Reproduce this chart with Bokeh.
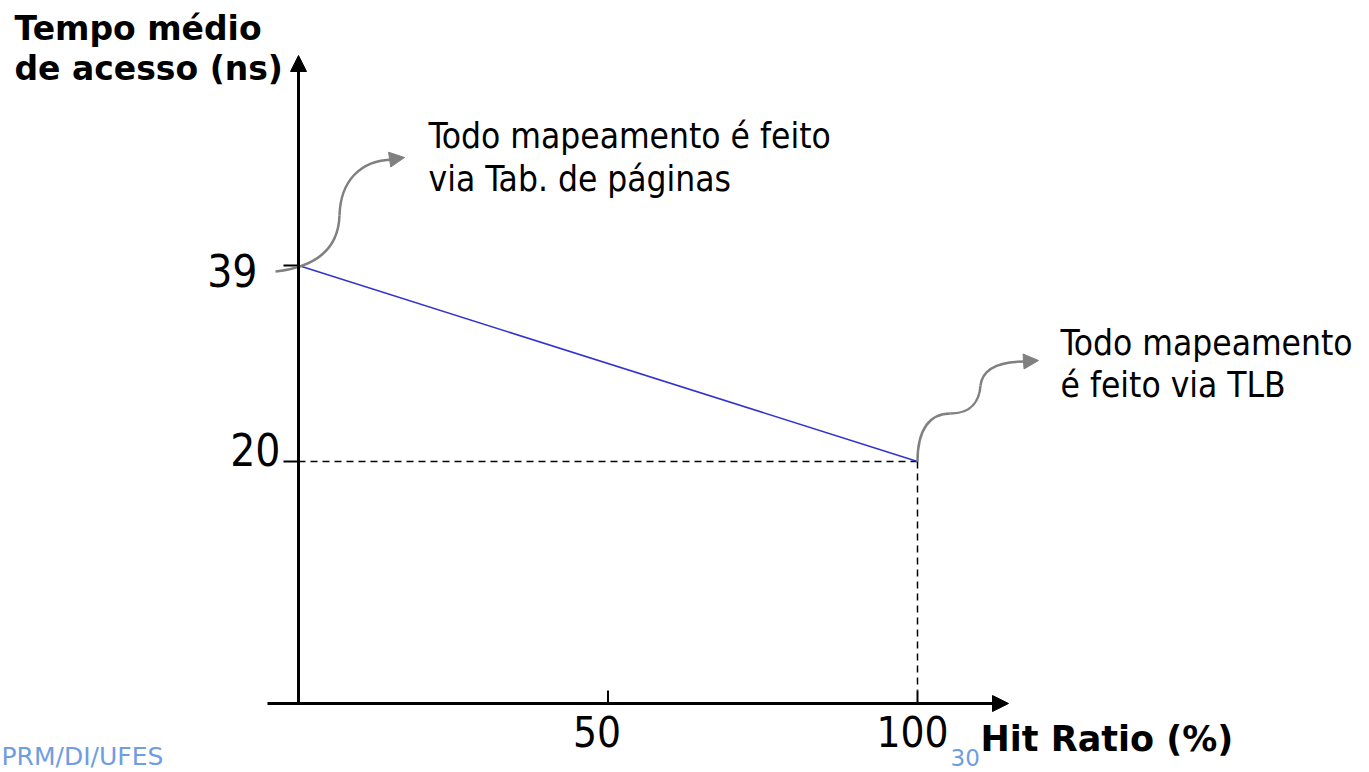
from bokeh.plotting import figure
from bokeh.models import Range1d, Arrow, NormalHead
from bokeh.core.properties import value
from bokeh.embed import file_html
from bokeh.resources import INLINE

# ---------------- data ----------------
hit_ratio = [0, 100]          # %
tempo_ns = [39, 20]           # ns
y_ticks = [39, 20]
y_tick_labels = ["39", "20"]
x_ticks = [50, 100]
x_tick_labels = ["50", "100"]
title_lines = ["Tempo médio", "de acesso (ns)"]
x_title = "Hit Ratio (%)"
note_table = ["Todo mapeamento é feito", "via Tab. de páginas"]
note_tlb = ["Todo mapeamento", "é feito via TLB"]
footer = "PRM/DI/UFES"
page_no = "30"

# ---------------- layout (pixel scale of the slide) ----------------
W, H = 1369, 772
MARGIN = 0
X0_PX, X1_PX = 298, 917      # page px of hit 0 and 100
Y0_PX, Y1_PX = 265, 461      # page px of 39 ns and 20 ns
SX = (X1_PX - X0_PX) / (hit_ratio[1] - hit_ratio[0])
SY = (Y1_PX - Y0_PX) / (tempo_ns[0] - tempo_ns[1])
BL = 0.35                    # baseline correction (fraction of font size)


def X(px):
    return hit_ratio[0] + (px - X0_PX) / SX


def Y(py):
    return tempo_ns[0] - (py - Y0_PX) / SY


def dx(px):
    return px / SX


def dy(py):
    return py / SY


def base(yval, fs):
    # y position so that the drawn baseline lands on yval
    return yval + dy(BL * fs)


p = figure(width=W, height=H,
           x_range=Range1d(X(MARGIN), X(MARGIN + W)),
           y_range=Range1d(Y(MARGIN + H), Y(MARGIN)),
           output_backend="svg", toolbar_location=None,
           x_axis_location=None, y_axis_location=None, min_border=0)
p.grid.visible = False
p.outline_line_color = None
p.background_fill_color = "white"
p.border_fill_color = "white"

REG = value("DejaVu Sans Condensed")
BOLD = value("DejaVu Sans")

y_base = Y(703)          # level of the horizontal axis
x_left = X(267)
x_tip = X(1008)
y_tip = Y(55)

# ---------------- axes with arrows ----------------
p.add_layout(Arrow(end=NormalHead(size=16, fill_color="black", line_color="black", line_width=1),
                   x_start=hit_ratio[0], y_start=y_base, x_end=hit_ratio[0], y_end=y_tip,
                   line_color="black", line_width=3))
p.add_layout(Arrow(end=NormalHead(size=16, fill_color="black", line_color="black", line_width=1),
                   x_start=x_left, y_start=y_base, x_end=x_tip, y_end=y_base,
                   line_color="black", line_width=3))

# y ticks
p.segment(x0=[hit_ratio[0] - dx(15)] * len(y_ticks), y0=y_ticks,
          x1=[hit_ratio[0]] * len(y_ticks), y1=y_ticks,
          line_color="black", line_width=2)
# x ticks
p.segment(x0=x_ticks, y0=[y_base] * len(x_ticks), x1=x_ticks,
          y1=[y_base + dy(13)] * len(x_ticks), line_color="black", line_width=2)

# dashed guides at the TLB end point
p.segment(x0=[hit_ratio[0]], y0=[tempo_ns[1]], x1=[hit_ratio[1]], y1=[tempo_ns[1]],
          line_color="black", line_width=1.5, line_dash="7 5")
p.segment(x0=[hit_ratio[1]], y0=[tempo_ns[1]], x1=[hit_ratio[1]], y1=[y_base + dy(13)],
          line_color="black", line_width=1.5, line_dash="7 5")

# main line
p.line(hit_ratio, tempo_ns, line_color="#3232cc", line_width=1.6)

# tick labels
p.text(x=[hit_ratio[0] - dx(41), hit_ratio[0] - dx(18)],
       y=[base(y_ticks[0] - dy(20), 44), base(y_ticks[1] - dy(3), 44)],
       text=y_tick_labels, text_font=REG, text_font_size=value("44px"),
       text_align="right", text_baseline="alphabetic", text_color="black")
p.text(x=[x_ticks[0] - dx(11), x_ticks[1] - dx(5)],
       y=[base(y_base - dy(43), 42)] * 2,
       text=x_tick_labels, text_font=REG, text_font_size=value("42px"),
       text_align="center", text_baseline="alphabetic", text_color="black")

# axis titles
p.text(x=[X(14), X(14)], y=[base(Y(40), 33), base(Y(80), 33)], text=title_lines,
       text_font=BOLD, text_font_style="bold", text_font_size=value("33px"),
       text_align="left", text_baseline="alphabetic", text_color="black")
p.text(x=[X(980)], y=[base(Y(751), 35)], text=[x_title],
       text_font=BOLD, text_font_style="bold", text_font_size=value("35px"),
       text_align="left", text_baseline="alphabetic", text_color="black")

# notes
p.text(x=[X(428)] * 2, y=[base(Y(148), 35), base(Y(191), 35)], text=note_table,
       text_font=REG, text_font_size=value("35px"),
       text_align="left", text_baseline="alphabetic", text_color="black")
p.text(x=[X(1060)] * 2, y=[base(Y(355), 35), base(Y(397), 35)], text=note_tlb,
       text_font=REG, text_font_size=value("35px"),
       text_align="left", text_baseline="alphabetic", text_color="black")

# curly connectors (anchored to the two end points)
GREY = "#808080"
ax, ay = hit_ratio[0], tempo_ns[0]
p.bezier(x0=[ax - dx(23), ax + dx(41)], y0=[ay - dy(6), ay + dy(50)],
         x1=[ax + dx(41), ax + dx(94)], y1=[ay + dy(50), ay + dy(106)],
         cx0=[ax + dx(22), ax + dx(42)], cy0=[ay - dy(1), ay + dy(85)],
         cx1=[ax + dx(40), ax + dx(62)], cy1=[ay + dy(20), ay + dy(105)],
         line_color=GREY, line_width=2.5)
p.add_layout(Arrow(end=NormalHead(size=15, fill_color=GREY, line_color=GREY, line_width=1),
                   x_start=ax + dx(92), y_start=ay + dy(106), x_end=ax + dx(106), y_end=ay + dy(108),
                   line_color=None, line_width=0))

bx, by = hit_ratio[1], tempo_ns[1]
p.bezier(x0=[bx, bx + dx(33), bx + dx(63)], y0=[by, by + dy(48), by + dy(76)],
         x1=[bx + dx(33), bx + dx(63), bx + dx(108)], y1=[by + dy(48), by + dy(76), by + dy(100)],
         cx0=[bx, bx + dx(55), bx + dx(65)], cy0=[by + dy(32), by + dy(48), by + dy(93)],
         cx1=[bx + dx(12), bx + dx(62), bx + dx(82)], cy1=[by + dy(48), by + dy(62), by + dy(100)],
         line_color=GREY, line_width=2.5)
p.add_layout(Arrow(end=NormalHead(size=15, fill_color=GREY, line_color=GREY, line_width=1),
                   x_start=bx + dx(106), y_start=by + dy(100), x_end=bx + dx(121), y_end=by + dy(101),
                   line_color=None, line_width=0))

# slide footer (kept just inside the bottom edge)
FOOT = "#6f9de3"
p.text(x=[X(1)], y=[base(Y(765), 25)], text=[footer], text_font=value("DejaVu Sans"),
       text_font_size=value("25px"), text_align="left", text_baseline="alphabetic",
       text_color=FOOT)
p.text(x=[X(950)], y=[base(Y(765), 23)], text=[page_no], text_font=value("DejaVu Sans"),
       text_font_size=value("23px"), text_align="left", text_baseline="alphabetic",
       text_color=FOOT)

open("out.html", "w").write(file_html(p, INLINE))
